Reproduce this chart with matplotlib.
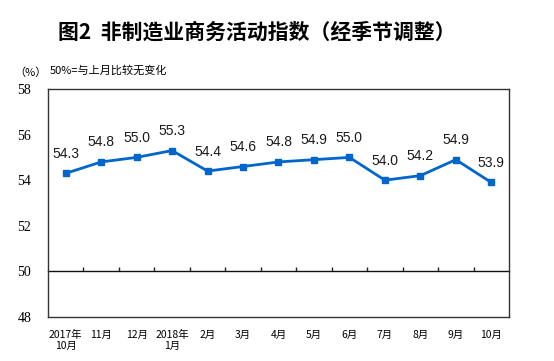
import matplotlib
matplotlib.use('Agg')
import matplotlib.pyplot as plt

plt.rcParams['font.family'] = ['Noto Sans CJK SC', 'DejaVu Sans']

# --- Data ---
months = ['2017年\n10月', '11月', '12月', '2018年\n1月', '2月', '3月', '4月',
          '5月', '6月', '7月', '8月', '9月', '10月']
index_vals = [54.3, 54.8, 55.0, 55.3, 54.4, 54.6, 54.8, 54.9, 55.0, 54.0, 54.2, 54.9, 53.9]
y_ticks = [48, 50, 52, 54, 56, 58]

# --- Figure ---
fig = plt.figure(figsize=(5.54, 3.61), dpi=100)
ax = fig.add_axes([0.0866, 0.1219, 0.8322, 0.6316])

x = list(range(len(months)))
ax.plot(x, index_vals, color='#0066CC', lw=2, marker='s', ms=4.5, zorder=3)

for xi, v in zip(x, index_vals):
    ax.annotate(f'{v:.1f}', (xi, v), xytext=(0, 9), textcoords='offset points',
                ha='center', va='bottom', fontsize=10, family='Liberation Sans', color='#1a1a1a')

ax.set_xlim(-0.5, len(months) - 0.5)
ax.set_ylim(48, 58)

# y axis: labels only
ax.set_yticks(y_ticks)
ax.set_yticklabels([str(t) for t in y_ticks], family='Liberation Serif', fontsize=10)
ax.tick_params(axis='y', length=0, pad=12)

# bottom labels without tick marks
ax.set_xticks(x)
ax.set_xticklabels(months, fontsize=7.5, linespacing=1.2)
ax.tick_params(axis='x', length=0, pad=9)

for s in ax.spines.values():
    s.set_color('#333333')
    s.set_linewidth(1)

# line at 50 with inward category-boundary ticks
sec = ax.secondary_xaxis(0.2)
sec.set_xticks([i + 0.5 for i in range(len(months) - 1)])
sec.set_xticklabels([])
sec.tick_params(direction='in', length=3, color='#222222', width=1)
sec.spines['bottom'].set_color('#111111')
sec.spines['bottom'].set_linewidth(1)

# --- Texts ---
fig.text(0.463, 0.91, '图2  非制造业商务活动指数（经季节调整）', ha='center', va='center',
         fontsize=15, fontweight='bold')
fig.text(0.025, 0.80, '（%）', ha='left', va='center', fontsize=8)
fig.text(0.090, 0.805, '50%=与上月比较无变化', ha='left', va='center', fontsize=8)

fig.savefig('out.png', dpi=100)
